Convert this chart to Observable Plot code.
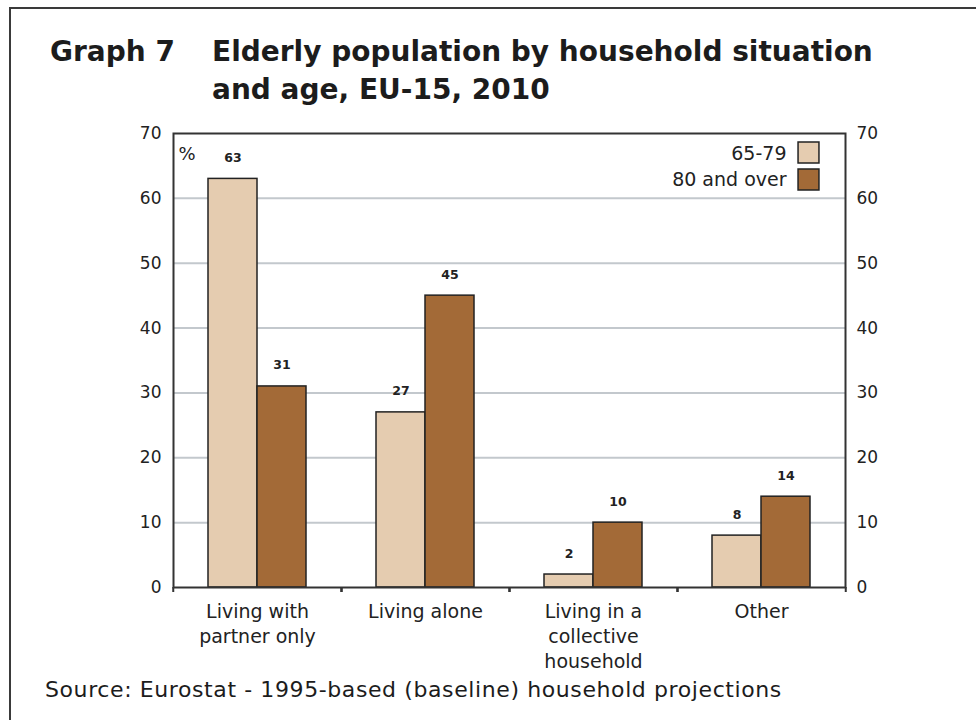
<!DOCTYPE html>
<html>
<head>
<meta charset="utf-8">
<script src="https://cdn.jsdelivr.net/npm/d3@7"></script>
<script src="https://cdn.jsdelivr.net/npm/@observablehq/plot@0.6"></script>
<style>
  html, body { margin: 0; padding: 0; background: #fff; }
  body { width: 976px; height: 720px; overflow: hidden; position: relative;
         font-family: "DejaVu Sans", sans-serif; color: #1c1c1c; }
  #border { position: absolute; left: 9px; top: 7px; width: 1200px; height: 1000px;
            border: 2px solid #3a3a3a; }
  #title { position: absolute; left: 50px; top: 33px; font-weight: bold; font-size: 28px;
           line-height: 38px; display: grid; grid-template-columns: 162px auto; }
  #chart { position: absolute; left: 0; top: 118px; }
  #source { position: absolute; left: 45px; top: 677px; font-size: 22px; letter-spacing: 0.6px; }
</style>
</head>
<body>
<div id="border"></div>
<div id="title">
  <div>Graph 7</div>
  <div>Elderly population by household situation<br>and age, EU-15, 2010</div>
</div>
<div id="chart"></div>
<div id="source">Source: Eurostat - 1995-based (baseline) household projections</div>
<script>
// Household situations and their axis labels
const categories = ["partner", "alone", "collective", "other"];
const categoryLabels = ["Living with\npartner only", "Living alone", "Living in a\ncollective\nhousehold", "Other"];

// Age groups and share (%) in each situation
const series = ["65-79", "80 and over"];
const age65to79 = [63, 27, 2, 8];
const age80plus = [31, 45, 10, 14];
const seriesColors = ["#e5ccb0", "#a36a37"];

const yTicks = [0, 10, 20, 30, 40, 50, 60, 70];

const rows = categories.flatMap((c, i) => [
  {category: c, series: series[0], value: age65to79[i]},
  {category: c, series: series[1], value: age80plus[i]}
]);
const labelRows = categories.map((c, i) => ({category: c, label: categoryLabels[i]}));

const W = 976, H = 556, mL = 172, mR = 130, mT = 15, mB = 87;
const facetStep = (W - mL - mR) / categories.length;
const firstCat = categories[0];
const lastCat = categories[categories.length - 1];
const ink = "#222";

const chart = Plot.plot({
  width: W, height: H,
  marginLeft: mL, marginRight: mR, marginTop: mT, marginBottom: mB,
  style: {fontFamily: "'DejaVu Sans', sans-serif", fontSize: "17px", color: ink, background: "transparent"},
  fx: {domain: categories, padding: 0, axis: null, label: null},
  x: {domain: series, paddingInner: 0, paddingOuter: 0.7, axis: null},
  y: {domain: [0, 70], axis: null, label: null},
  color: {domain: series, range: seriesColors},
  marks: [
    Plot.gridY(yTicks.filter(t => t > 0 && t < 70), {stroke: "#c3c8cd", strokeOpacity: 1, strokeWidth: 2}),
    Plot.barY(rows, {fx: "category", x: "series", y: "value", fill: "series", stroke: ink, strokeWidth: 1.5}),
    Plot.text(rows, {fx: "category", x: "series", y: "value", text: d => String(d.value),
                     dy: -21, fontSize: 12.5, fontWeight: "bold"}),
    Plot.axisY({anchor: "left", ticks: yTicks, tickSize: 0, tickPadding: 12, fontSize: 17, label: null}),
    Plot.axisY({anchor: "right", ticks: yTicks, tickSize: 0, tickPadding: 11, fontSize: 17, label: null}),
    Plot.frame({facet: "super", stroke: "#333", strokeWidth: 2}),
    // small separators below the baseline between situations
    Plot.axisFx({anchor: "bottom", fill: "none", tickSize: 5, dx: -facetStep / 2, stroke: "#333", strokeWidth: 2, label: null}),
    Plot.axisFx({anchor: "bottom", fill: "none", tickSize: 5, dx: facetStep / 2, stroke: "#333", strokeWidth: 2, label: null}),
    Plot.text(labelRows, {fx: "category", text: "label", frameAnchor: "bottom", lineAnchor: "top",
                          dy: 13, fontSize: 19, lineHeight: 1.32}),
    Plot.text(["%"], {fx: () => firstCat, frameAnchor: "top-left", lineAnchor: "middle", dx: 5, dy: 21, fontSize: 18}),
    // legend in the top-right corner
    ...series.map((s, i) => Plot.dot([s], {fx: () => lastCat, frameAnchor: "top-right", dx: -37, dy: 19 + 27 * i,
                                           symbol: "square", r: 11.8, fill: d => d, stroke: ink, strokeWidth: 1.5})),
    ...series.map((s, i) => Plot.text([s], {fx: () => lastCat, frameAnchor: "top-right", lineAnchor: "middle",
                                            dx: -59, dy: 20 + 26 * i,
                                            text: d => d, textAnchor: "end", fontSize: 19}))
  ]
});
document.getElementById("chart").appendChild(chart);
</script>
</body>
</html>
